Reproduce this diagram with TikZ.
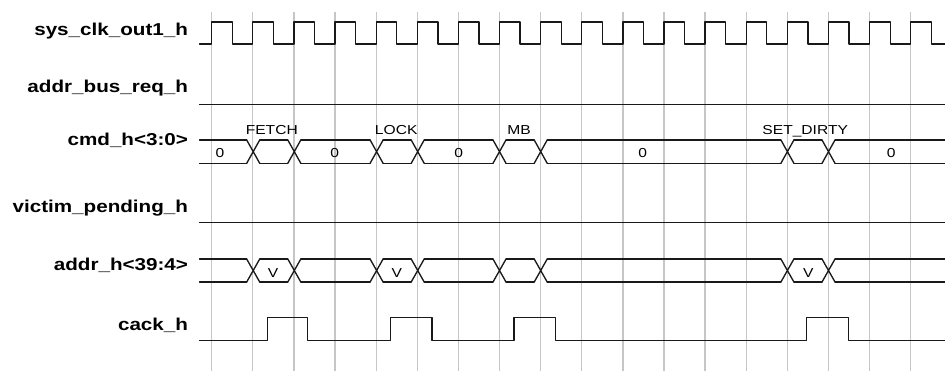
\documentclass[tikz,border=0pt]{standalone}
\usepackage{fontspec}
\newfontfamily\sigfont[FakeStretch=1.2]{Liberation Sans}

\begin{document}
\begin{tikzpicture}[
    x=0.75pt,
    y=-0.75pt,
    signame/.style={
        anchor=base east,
        inner sep=0pt,
        font=\sigfont\bfseries\fontsize{12.9}{14}\selectfont
    },
    buslabel/.style={
        anchor=base,
        inner sep=0pt,
        font=\sigfont\fontsize{9.75}{11}\selectfont
    },
    wave/.style={
        draw=black!90,
        line width=1pt,
        line cap=round,
        line join=round
    },
    gridline/.style={
        draw=gray!45,
        line width=1pt
    },
]
    \useasboundingbox (0,0) rectangle (945,372);

    \foreach \i in {0,...,17}
        \draw[gridline] ({211.7+41.12*\i},12) -- ({211.7+41.12*\i},371);

    \node (clk)  [signame] at (188.3,35.3)  {sys\_clk\_out1\_h};
    \node (abr)  [signame] at (188.3,92.7)  {addr\_bus\_req\_h};
    \node (cmd)  [signame] at (188.3,145.7) {cmd\_h<3:0>};
    \node (vic)  [signame] at (188.3,212.3) {victim\_pending\_h};
    \node (addr) [signame] at (188.3,270.7) {addr\_h<39:4>};
    \node (cack) [signame] at (188.3,330)   {cack\_h};

    \draw[wave] (199.5,44)
        \foreach \i in {0,...,17} {
            -- ({211.7+41.12*\i},44) -- ++(0,-22) -- ++(20.56,0) -- ++(0,22)
        } -- (945,44);

    \draw[wave] (199.5,104.3) -- (945,104.3);
    \draw[wave] (199.5,222.7) -- (945,222.7);

    \foreach \yt/\yb in {140/163.3, 259/282} {
        \foreach \a/\b in {199.5/246.7, 259.7/287.8, 300.8/370.1, 383.1/411.2,
                           424.2/493.0, 506.0/534.2, 547.2/780.9, 793.9/822.0, 835.0/945}
            \draw[wave] (\a,\yt) -- (\b,\yt) (\a,\yb) -- (\b,\yb);
        \foreach \t in {253.2, 294.3, 376.6, 417.7, 499.5, 540.7, 787.4, 828.5}
            \draw[wave] ({\t-6.5},\yt) -- ({\t+6.5},\yb) ({\t-6.5},\yb) -- ({\t+6.5},\yt);
    }

    \foreach \x/\v [count=\n] in {220/0, 334.7/0, 458.7/0, 642.7/0, 891.3/0}
        \node (cmdv\n) [buslabel] at (\x,157.3) {\v};
    \foreach \x/\v [count=\n] in {271.8/FETCH, 396.2/LOCK, 519/MB, 805.2/SET\_DIRTY}
        \node (cmdop\n) [buslabel] at (\x,134.2) {\v};
    \foreach \x [count=\n] in {273, 396.7, 808.3}
        \node (addrv\n) [buslabel] at (\x,277.3) {V};

    \draw[wave] (199.5,340.7)
        \foreach \r/\f in {267.2/307.3, 390.6/432, 514/555.3, 806.7/848.3} {
            -- (\r,340.7) -- (\r,317.3) -- (\f,317.3) -- (\f,340.7)
        } -- (945,340.7);
\end{tikzpicture}
\end{document}
